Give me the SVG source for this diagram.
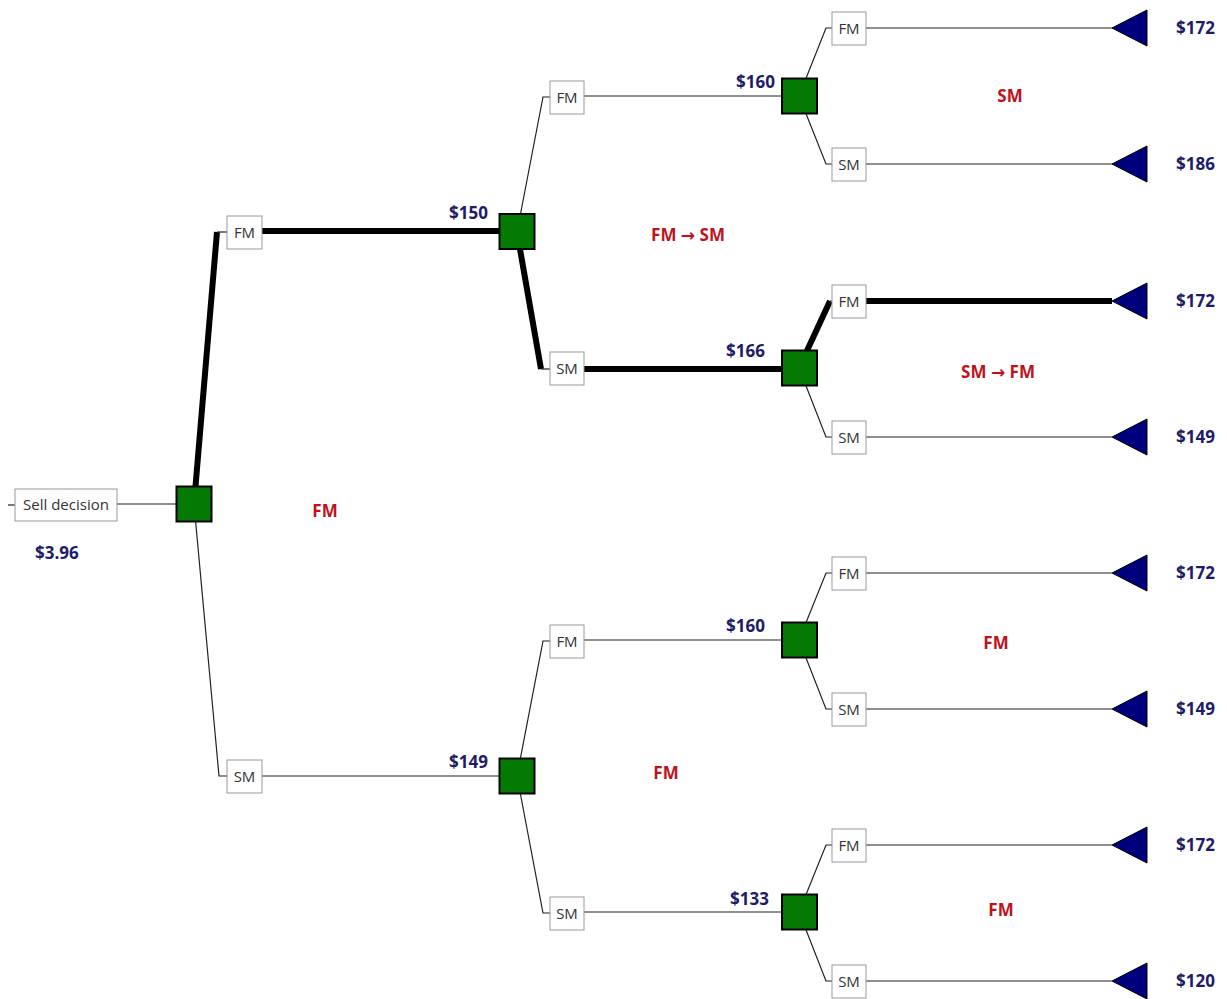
<svg xmlns="http://www.w3.org/2000/svg" width="1227" height="999" viewBox="0 0 1227 999">
<defs>
<style>
.thin{stroke:#222;stroke-width:1.2;fill:none}
.thick{stroke:#000;stroke-width:6;fill:none}
.dec{fill:#047a04;stroke:#000;stroke-width:2}
.box{fill:#fff;stroke:#999;stroke-width:1}
.blab{font-family:"Open Sans","Noto Sans",sans-serif;font-size:15px;fill:#333;text-anchor:middle}
.val{font-family:"Open Sans","Noto Sans",sans-serif;font-size:17px;font-weight:bold;fill:#1c1c6b}
.red{font-family:"Open Sans","Noto Sans",sans-serif;font-size:17px;font-weight:bold;fill:#c0121c;text-anchor:middle}
.arr{font-family:"DejaVu Sans",sans-serif;font-weight:bold}
.tri{fill:#00007c;stroke:#000;stroke-width:1}
</style>
</defs>
<g id="connectors">
<line class="thin" x1="8" y1="505" x2="15" y2="505"/>
<line class="thin" x1="117" y1="504" x2="194" y2="504"/>
<line class="thick" x1="194" y1="504" x2="217" y2="232"/>
<line class="thin" x1="217" y1="232" x2="227" y2="232"/>
<line class="thick" x1="262" y1="231" x2="517" y2="231"/>
<polyline class="thin" points="194,504 219,776 227,776"/>
<line class="thin" x1="262" y1="776" x2="517" y2="776"/>
<polyline class="thin" points="517,232 543,97 550,97"/>
<line class="thin" x1="584" y1="96" x2="799" y2="96"/>
<line class="thick" x1="517" y1="232" x2="541" y2="369"/>
<line class="thin" x1="541" y1="369" x2="550" y2="369"/>
<line class="thick" x1="584" y1="369" x2="799" y2="369"/>
<polyline class="thin" points="517,776 543,641 550,641"/>
<line class="thin" x1="584" y1="640" x2="799" y2="640"/>
<polyline class="thin" points="517,776 543,913 550,913"/>
<line class="thin" x1="584" y1="912" x2="799" y2="912"/>
<polyline class="thin" points="799,96 826,28 832,28"/>
<polyline class="thin" points="799,96 826,164 832,164"/>
<line class="thick" x1="799" y1="368" x2="830" y2="301"/>
<line class="thin" x1="830" y1="301" x2="832" y2="301"/>
<polyline class="thin" points="799,368 826,437 832,437"/>
<polyline class="thin" points="799,640 826,573 832,573"/>
<polyline class="thin" points="799,640 826,709 832,709"/>
<polyline class="thin" points="799,912 826,845 832,845"/>
<polyline class="thin" points="799,912 826,981 832,981"/>
<line class="thin" x1="866" y1="28" x2="1112" y2="28"/>
<line class="thin" x1="866" y1="164" x2="1112" y2="164"/>
<line class="thick" x1="866" y1="301" x2="1112" y2="301"/>
<line class="thin" x1="866" y1="437" x2="1112" y2="437"/>
<line class="thin" x1="866" y1="573" x2="1112" y2="573"/>
<line class="thin" x1="866" y1="709" x2="1112" y2="709"/>
<line class="thin" x1="866" y1="845" x2="1112" y2="845"/>
<line class="thin" x1="866" y1="981" x2="1112" y2="981"/>
</g>
<g id="root">
<rect class="box" x="15" y="489" width="102" height="32"/>
<text class="blab" x="66" y="510">Sell decision</text>
<rect class="dec" x="176.5" y="486.5" width="35" height="35"/>
<text class="val" x="35" y="559">$3.96</text>
</g>
<g id="b-fm1"><rect class="box" x="227" y="216" width="35" height="33"/><text class="blab" x="244.5" y="237.5">FM</text></g>
<g id="b-sm1"><rect class="box" x="227" y="760" width="35" height="33"/><text class="blab" x="244.5" y="781.5">SM</text></g>
<g id="nodeA"><rect class="dec" x="499.5" y="214" width="35" height="35"/><text class="val" x="488" y="219" text-anchor="end">$150</text></g>
<g id="nodeB"><rect class="dec" x="499.5" y="758.5" width="35" height="35"/><text class="val" x="488" y="768" text-anchor="end">$149</text></g>
<g id="b-a-fm"><rect class="box" x="550" y="81" width="34" height="33"/><text class="blab" x="567" y="102.5">FM</text></g>
<g id="b-a-sm"><rect class="box" x="550" y="352" width="34" height="33"/><text class="blab" x="567" y="373.5">SM</text></g>
<g id="b-b-fm"><rect class="box" x="550" y="625" width="34" height="33"/><text class="blab" x="567" y="646.5">FM</text></g>
<g id="b-b-sm"><rect class="box" x="550" y="897" width="34" height="33"/><text class="blab" x="567" y="918.5">SM</text></g>
<g id="nodeC"><rect class="dec" x="782" y="78.5" width="35" height="35"/><text class="val" x="775" y="88" text-anchor="end">$160</text></g>
<g id="nodeD"><rect class="dec" x="782" y="350.5" width="35" height="35"/><text class="val" x="765" y="357" text-anchor="end">$166</text></g>
<g id="nodeE"><rect class="dec" x="782" y="622.5" width="35" height="35"/><text class="val" x="765" y="632" text-anchor="end">$160</text></g>
<g id="nodeF"><rect class="dec" x="782" y="894.5" width="35" height="35"/><text class="val" x="769" y="905" text-anchor="end">$133</text></g>
<g id="b-c-fm"><rect class="box" x="832" y="12" width="34" height="33"/><text class="blab" x="849" y="33.5">FM</text></g>
<g id="b-c-sm"><rect class="box" x="832" y="148" width="34" height="33"/><text class="blab" x="849" y="169.5">SM</text></g>
<g id="b-d-fm"><rect class="box" x="832" y="285" width="34" height="33"/><text class="blab" x="849" y="306.5">FM</text></g>
<g id="b-d-sm"><rect class="box" x="832" y="421" width="34" height="33"/><text class="blab" x="849" y="442.5">SM</text></g>
<g id="b-e-fm"><rect class="box" x="832" y="557" width="34" height="33"/><text class="blab" x="849" y="578.5">FM</text></g>
<g id="b-e-sm"><rect class="box" x="832" y="693" width="34" height="33"/><text class="blab" x="849" y="714.5">SM</text></g>
<g id="b-f-fm"><rect class="box" x="832" y="829" width="34" height="33"/><text class="blab" x="849" y="850.5">FM</text></g>
<g id="b-f-sm"><rect class="box" x="832" y="965" width="34" height="33"/><text class="blab" x="849" y="986.5">SM</text></g>
<g id="t1"><polygon class="tri" points="1112,28 1147,10 1147,46"/><text class="val" x="1176" y="34">$172</text></g>
<g id="t2"><polygon class="tri" points="1112,164 1147,146 1147,182"/><text class="val" x="1176" y="170">$186</text></g>
<g id="t3"><polygon class="tri" points="1112,301 1147,283 1147,319"/><text class="val" x="1176" y="307">$172</text></g>
<g id="t4"><polygon class="tri" points="1112,437 1147,419 1147,455"/><text class="val" x="1176" y="443">$149</text></g>
<g id="t5"><polygon class="tri" points="1112,573 1147,555 1147,591"/><text class="val" x="1176" y="579">$172</text></g>
<g id="t6"><polygon class="tri" points="1112,709 1147,691 1147,727"/><text class="val" x="1176" y="715">$149</text></g>
<g id="t7"><polygon class="tri" points="1112,845 1147,827 1147,863"/><text class="val" x="1176" y="851">$172</text></g>
<g id="t8"><polygon class="tri" points="1112,981 1147,963 1147,999"/><text class="val" x="1176" y="987">$120</text></g>
<g id="annotations">
<text class="red" x="1010" y="102">SM</text>
<text class="red" x="688" y="241">FM <tspan class="arr">→</tspan> SM</text>
<text class="red" x="998" y="378">SM <tspan class="arr">→</tspan> FM</text>
<text class="red" x="325" y="517">FM</text>
<text class="red" x="996" y="649">FM</text>
<text class="red" x="666" y="779">FM</text>
<text class="red" x="1001" y="916">FM</text>
</g>
</svg>
